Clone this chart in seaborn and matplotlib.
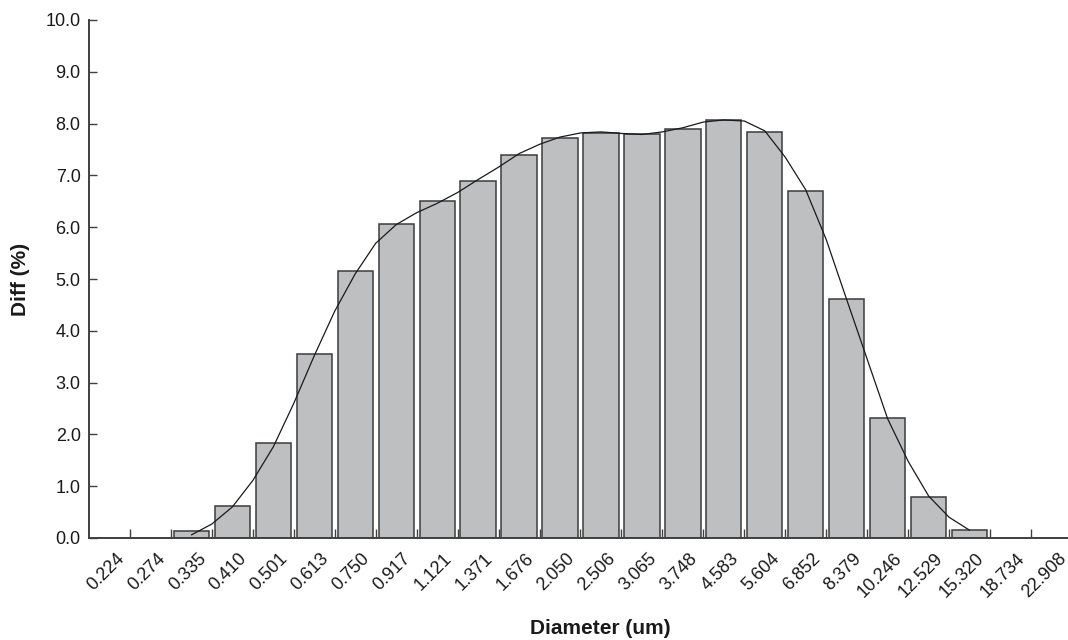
import matplotlib
matplotlib.use("Agg")
import matplotlib.pyplot as plt
import matplotlib.transforms as mtransforms
from matplotlib.ticker import FixedLocator, MultipleLocator, FormatStrFormatter
import numpy as np
import pandas as pd
import seaborn as sns

# ---------------- data ----------------
diameters = ["0.224", "0.274", "0.335", "0.410", "0.501", "0.613", "0.750", "0.917",
             "1.121", "1.371", "1.676", "2.050", "2.506", "3.065", "3.748", "4.583",
             "5.604", "6.852", "8.379", "10.246", "12.529", "15.320", "18.734", "22.908"]
diff_pct = [0.0, 0.0, 0.13, 0.61, 1.83, 3.55, 5.15, 6.07,
            6.50, 6.89, 7.39, 7.73, 7.81, 7.79, 7.90, 8.06,
            7.84, 6.69, 4.62, 2.32, 0.80, 0.16, 0.0, 0.0]

# smooth distribution curve, sampled every half bin (bin index units)
curve_pos = [2.0, 2.5, 3.0, 3.5, 4.0, 4.5, 5.0, 5.5, 6.0, 6.5, 7.0, 7.5, 8.0, 8.5,
             9.0, 9.5, 10.0, 10.5, 11.0, 11.5, 12.0, 12.5, 13.0, 13.5, 14.0, 14.5,
             15.0, 15.5, 16.0, 16.5, 17.0, 17.5, 18.0, 18.5, 19.0, 19.5, 20.0, 20.5, 21.0]
curve_vals = [0.06, 0.27, 0.60, 1.11, 1.76, 2.60, 3.52, 4.38, 5.10, 5.69, 6.05, 6.28, 6.46, 6.67,
              6.92, 7.16, 7.42, 7.60, 7.74, 7.82, 7.84, 7.81, 7.79, 7.84, 7.92, 8.03,
              8.07, 8.05, 7.86, 7.35, 6.72, 5.76, 4.60, 3.45, 2.30, 1.48, 0.81, 0.40, 0.15]

y_label = "Diff (%)"
x_label = "Diameter (um)"

# ---------------- style ----------------
sns.set_style("white")
plt.rcParams["font.family"] = ["Liberation Sans", "DejaVu Sans"]

W, H = 1068, 640
fig = plt.figure(figsize=(W / 100, H / 100), dpi=100)
ax_left, ax_right, ax_bottom, ax_top = 89, 1072, 538, 20
ax = fig.add_axes([ax_left / W, 1 - ax_bottom / H,
                   (ax_right - ax_left) / W, (ax_bottom - ax_top) / H])

df = pd.DataFrame({"Diameter": diameters, "Diff": diff_pct})
sns.barplot(data=df, x="Diameter", y="Diff", order=diameters, color="#bebfc1",
            saturation=1, width=0.86, edgecolor="#3c3c3c", linewidth=1.1,
            errorbar=None, ax=ax, zorder=2)

sns.lineplot(x=curve_pos, y=curve_vals, color="#1a1a1a", linewidth=0.9,
             sort=False, estimator=None, ax=ax, zorder=3)

ax.set_xlim(-0.5, len(diameters) - 0.5)
ax.set_ylim(0, 10)

# spines
for s in ["top", "right"]:
    ax.spines[s].set_visible(False)
for s in ["left", "bottom"]:
    ax.spines[s].set_color("#404040")
    ax.spines[s].set_linewidth(1.4)
    ax.spines[s].set_zorder(4)

# x ticks: labels at bin centres, tick marks at bin edges
ax.set_xticks(range(len(diameters)))
ax.set_xticklabels(diameters, rotation=45, ha="right", va="top",
                   rotation_mode="anchor")
ax.tick_params(axis="x", which="major", bottom=True, length=0, pad=8.5,
               labelsize=13, labelcolor="#1a1a1a")
ax.xaxis.set_minor_locator(FixedLocator(np.arange(0.5, len(diameters) - 0.5, 1)))
ax.tick_params(axis="x", which="minor", bottom=True, direction="in", length=6.5,
               width=1.0, color="#404040")
offset = mtransforms.ScaledTranslation(6 / 100, 0, fig.dpi_scale_trans)
for lbl in ax.get_xticklabels():
    lbl.set_transform(lbl.get_transform() + offset)

# y ticks
ax.yaxis.set_major_locator(MultipleLocator(1))
ax.yaxis.set_major_formatter(FormatStrFormatter("%.1f"))
ax.tick_params(axis="y", which="major", left=True, direction="in", length=5.5,
               width=1.0, color="#404040", pad=6, labelsize=13,
               labelcolor="#1a1a1a")

# axis labels
ax.set_ylabel(y_label, fontsize=15, fontweight="bold", color="#1a1a1a", va="center")
ax.yaxis.set_label_coords((20 - ax_left) / (ax_right - ax_left), 0.5)
ax.set_xlabel(x_label, fontsize=15, fontweight="bold", color="#1a1a1a", va="center")
ax.xaxis.set_label_coords((600 - ax_left) / (ax_right - ax_left),
                          (ax_bottom - 628) / (ax_bottom - ax_top))

fig.savefig("out.png", dpi=100)
